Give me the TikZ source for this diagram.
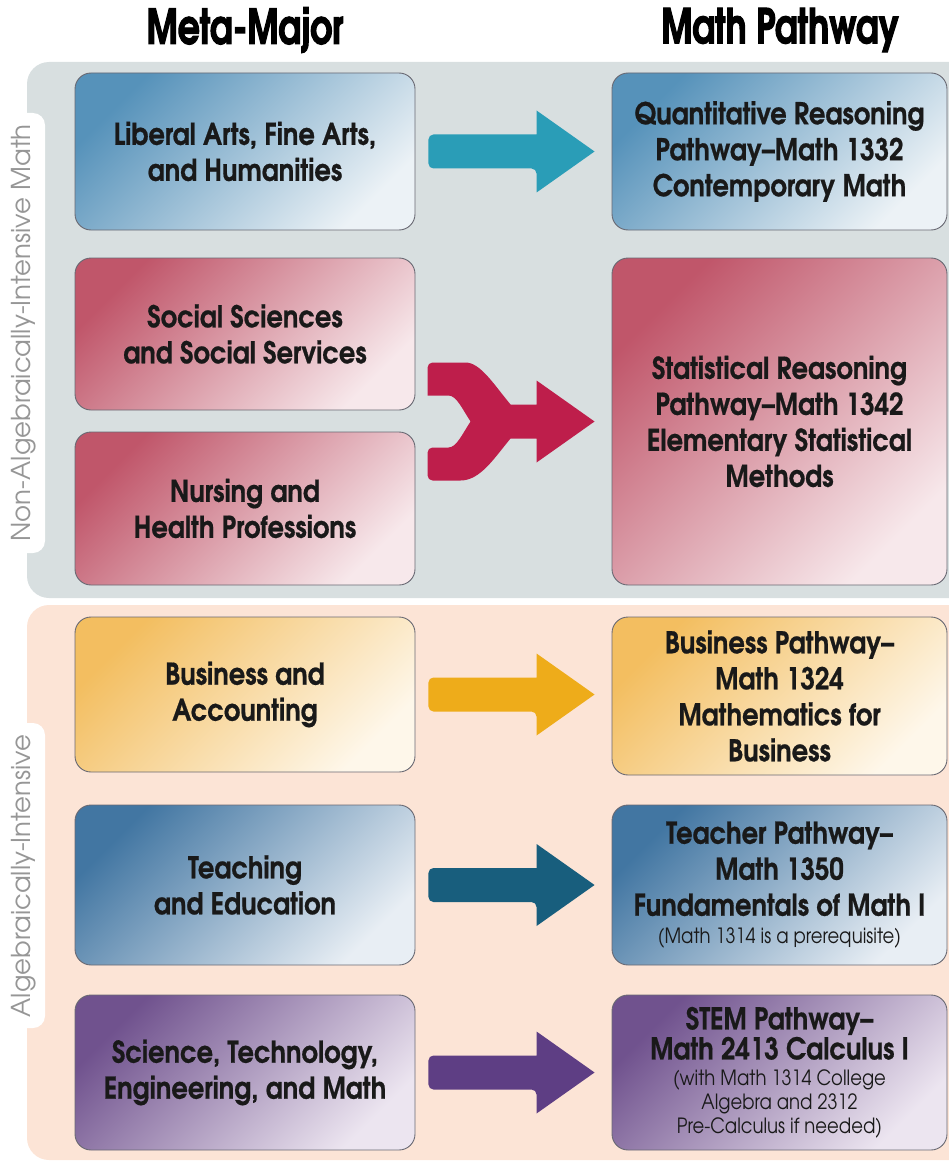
\documentclass[tikz,border=0pt]{standalone}
\usepackage{fontspec}
\setmainfont{texgyreadventor}[Extension=.otf, UprightFont=*-regular, BoldFont=*-bold]
\newfontfamily\headfont{texgyreadventor}[Extension=.otf, UprightFont=*-bold, FakeStretch=0.72, FakeBold=2.2]
\newfontfamily\boxfont{texgyreadventor}[Extension=.otf, UprightFont=*-bold, FakeStretch=0.86, FakeBold=0.6]
\newfontfamily\notefont{texgyreadventor}[Extension=.otf, UprightFont=*-regular, FakeStretch=0.86]
\usetikzlibrary{calc}

\definecolor{panelgray}{RGB}{216,223,224}
\definecolor{panelpeach}{RGB}{252,228,214}
\definecolor{tabgray}{RGB}{150,150,150}
\definecolor{boxline}{RGB}{105,105,115}
\definecolor{blueA}{RGB}{86,146,186}
\definecolor{blueB}{RGB}{236,242,246}
\definecolor{redA}{RGB}{192,86,106}
\definecolor{redB}{RGB}{247,232,235}
\definecolor{goldA}{RGB}{243,190,96}
\definecolor{goldB}{RGB}{254,247,234}
\definecolor{navyA}{RGB}{66,118,162}
\definecolor{navyB}{RGB}{232,238,244}
\definecolor{purpA}{RGB}{112,82,142}
\definecolor{purpB}{RGB}{236,229,240}
\definecolor{arrteal}{RGB}{42,157,183}
\definecolor{arrred}{RGB}{190,30,75}
\definecolor{arrgold}{RGB}{238,172,26}
\definecolor{arrnavy}{RGB}{24,94,125}
\definecolor{arrpurp}{RGB}{94,62,132}

% block arrow between two boxes
\newcommand{\bigarrow}[3]{%
  \coordinate (t0) at ($(#1.east)+(13,0)$);
  \coordinate (t1) at ($(#2.west |- #1.east)+(-17,0)$);
  \fill[#3] ($(t0)+(0,-17)$) [rounded corners=5] -- ($(t0)+(0,17)$) -- ($(t1)+(-58,17)$)
    [sharp corners] -- ($(t1)+(-58,41)$) -- (t1) -- ($(t1)+(-58,-41)$) -- ($(t1)+(-58,-17)$)
    [rounded corners=5] -- cycle;
}

\begin{document}
\begin{tikzpicture}[x=1pt,y=-1pt,
    head/.style={font=\headfont\fontsize{48}{50}\selectfont},
    tab/.style={rotate=90,text=tabgray,font=\fontsize{26}{28}\selectfont},
    mbox/.style={draw=boxline,line width=0.9pt,rounded corners=16pt,align=center,
      font=\boxfont\fontsize{30}{36}\selectfont,text=black!90,inner sep=0pt},
    lbox/.style={mbox,minimum width=340pt},
    rbox/.style={mbox,minimum width=335pt},
    shblue/.style={top color=blueA,bottom color=blueB,shading angle=45},
    shred/.style={top color=redA,bottom color=redB,shading angle=45},
    shgold/.style={top color=goldA,bottom color=goldB,shading angle=45},
    shnavy/.style={top color=navyA,bottom color=navyB,shading angle=45},
    shpurp/.style={top color=purpA,bottom color=purpB,shading angle=45}]
\useasboundingbox (0,0) rectangle (949,1161);

% Pannelli di sfondo
\fill[panelgray,rounded corners=22pt] (27,62) rectangle (990,598);
\fill[panelpeach,rounded corners=22pt] (27,605) rectangle (990,1160);
\fill[white,rounded corners=12pt] (-20,113) rectangle (45,553);
\fill[white,rounded corners=12pt] (-20,723) rectangle (45,1028);
\node[tab] (tabnon) at (24,333) {Non-Algebraically-Intensive Math};
\node[tab] (tabalg) at (24,876) {Algebraically-Intensive};

% Intestazioni
\node[head] (hmeta) at (245,30) {Meta-Major};
\node[head] (hpath) at (780,30) {Math Pathway};

% Meta-major
\node[lbox,shblue,minimum height=157pt] (lib) at (245,151.5) {Liberal Arts, Fine Arts,\\and Humanities};
\node[lbox,shred,minimum height=152pt] (soc) at (245,334) {Social Sciences\\and Social Services};
\node[lbox,shred,minimum height=153pt] (nur) at (245,508.5) {Nursing and\\Health Professions};
\node[lbox,shgold,minimum height=155pt] (bus) at (245,694.5) {Business and\\Accounting};
\node[lbox,shnavy,minimum height=160pt] (tea) at (245,885) {Teaching\\and Education};
\node[lbox,shpurp,minimum height=155pt] (sci) at (245,1072.5) {Science, Technology,\\Engineering, and Math};

% Percorsi
\node[rbox,shblue,minimum height=157pt] (quant) at (779.5,151.5) {Quantitative Reasoning\\Pathway–Math 1332\\Contemporary Math};
\node[rbox,shred,minimum height=327pt] (stat) at (779.5,421.5) {Statistical Reasoning\\Pathway–Math 1342\\Elementary Statistical\\Methods};
\node[rbox,shgold,minimum height=158pt] (busp) at (779.5,696) {Business Pathway–\\Math 1324\\Mathematics for\\Business};
\node[rbox,shnavy,minimum height=160pt] (teach) at (779.5,885) {Teacher Pathway–\\Math 1350\\Fundamentals of Math I\\[-8pt]{\notefont\fontsize{21}{25}\selectfont (Math 1314 is a prerequisite)}};
\node[rbox,shpurp,minimum height=155pt] (stem) at (779.5,1072.5) {STEM Pathway–\\[-6pt]Math 2413 Calculus I\\[-10pt]{\notefont\fontsize{21}{25}\selectfont (with Math 1314 College}\\[-12pt]{\notefont\fontsize{21}{25}\selectfont Algebra and  2312}\\[-12pt]{\notefont\fontsize{21}{25}\selectfont Pre-Calculus if needed)}};

% Frecce
\bigarrow{lib}{quant}{arrteal}
\bigarrow{bus}{busp}{arrgold}
\bigarrow{tea}{teach}{arrnavy}
\bigarrow{sci}{stem}{arrpurp}

% Freccia a due rami
\begin{scope}[shift={($(stat.west)+(-17,0)$)}]
  \fill[arrred] (-167,-40) [rounded corners=5] -- (-167,-59) -- (-134,-59)
    [sharp corners] .. controls (-114,-59) and (-100,-36) .. (-84,-17) -- (-58,-17) -- (-58,-41)
    -- (0,0) -- (-58,41) -- (-58,17) -- (-84,17) .. controls (-100,36) and (-114,59) .. (-134,59)
    [rounded corners=5] -- (-167,59) -- (-167,26) [sharp corners] -- (-146,26)
    .. controls (-138,26) and (-132,12) .. (-124,0) .. controls (-132,-12) and (-138,-26) .. (-146,-26)
    -- (-167,-26) -- cycle;
\end{scope}

\end{tikzpicture}
\end{document}
